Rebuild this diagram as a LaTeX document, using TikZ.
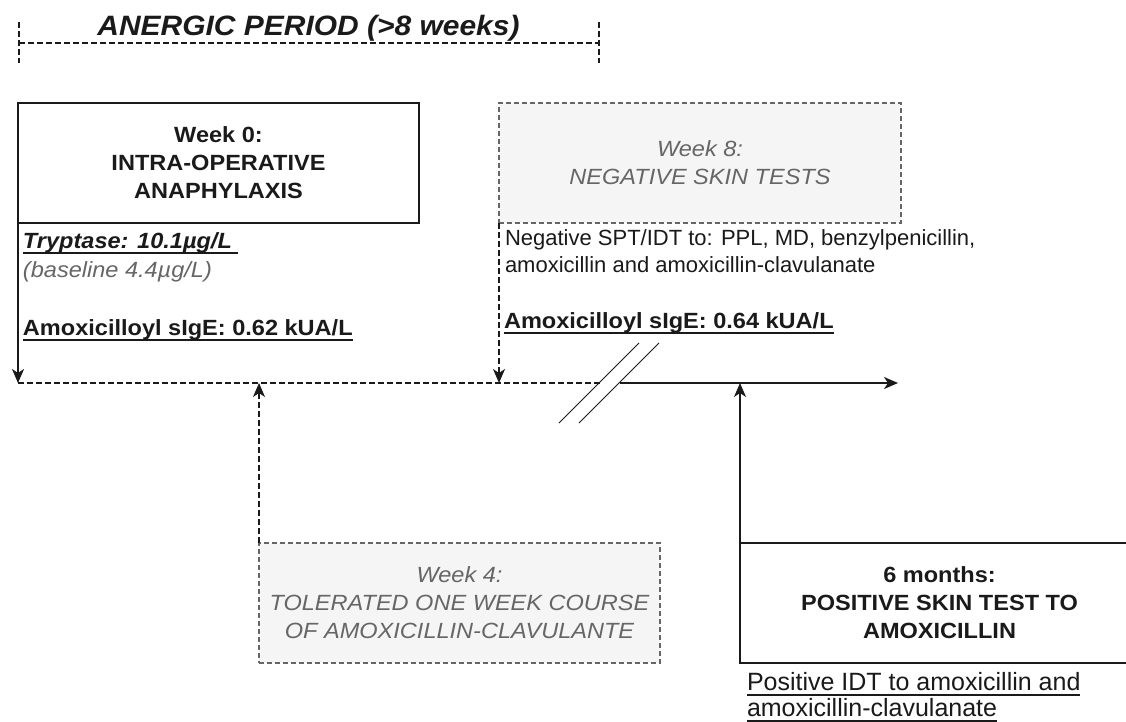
\documentclass[tikz,border=0pt]{standalone}
\usepackage{fontspec}
\setmainfont{Liberation Sans}[BoldFeatures={FakeStretch=1.07},ItalicFeatures={FakeStretch=1.07},BoldItalicFeatures={FakeStretch=1.07}]
\usetikzlibrary{arrows.meta}
\definecolor{grayfill}{HTML}{F5F5F5}
\definecolor{graytext}{HTML}{666666}
\definecolor{graystroke}{HTML}{666666}
\definecolor{ink}{HTML}{1A1A1A}
\newcommand\myul[1]{\setbox0\hbox{#1}\rlap{\copy0}\rule[-5.5pt]{\wd0}{1.5pt}}
\begin{document}
\begin{tikzpicture}[x=1pt,y=-1pt,
  every node/.style={inner sep=0pt,outer sep=0pt,text=ink,font=\fontsize{22}{28}\selectfont},
  solidbox/.style={draw=ink,line width=1.6pt,minimum height=120pt,anchor=north west,align=center,font=\bfseries\fontsize{22}{28}\selectfont},
  graybox/.style={draw=graystroke,fill=grayfill,dash pattern=on 5pt off 3pt,line width=1.1pt,minimum height=120pt,anchor=north west,align=center,text=graytext,font=\itshape\fontsize{22}{28}\selectfont},
  note/.style={anchor=base west},
  arr/.style={draw=ink,line width=1.6pt,-{Stealth[length=14pt,width=12pt,inset=4pt]}},
  darr/.style={draw=ink,line width=1.3pt,dash pattern=on 6pt off 3pt,-{Stealth[length=14pt,width=12pt,inset=4pt]}},
  dline/.style={draw=ink,line width=1.3pt,dash pattern=on 6pt off 3pt},
  breakline/.style={draw=ink,line width=0.9pt}
]
\useasboundingbox (0,0) rectangle (1126,721);
\clip (0,0) rectangle (1126,721);
\fill[white] (0,0) rectangle (1126,721);

% anergic period bracket
\coordinate (bl) at (19,43);
\coordinate (br) at (599,43);
\draw[dline] (bl) -- (br);
\draw[dline] (19,22) -- (19,63);
\draw[dline] (599,22) -- (599,63);
\node[anchor=base,font=\bfseries\itshape\fontsize{28}{34}\selectfont] (title) at (308.5,35) {ANERGIC PERIOD (>8 weeks)};

% boxes
\node[solidbox,minimum width=401pt] (w0) at (18,103) {Week 0:\\INTRA-OPERATIVE\\ANAPHYLAXIS};
\node[graybox,minimum width=402pt] (w8) at (499,103) {Week 8:\\NEGATIVE SKIN TESTS};
\node[graybox,minimum width=401pt] (w4) at (259,543) {Week 4:\\TOLERATED ONE WEEK COURSE\\OF AMOXICILLIN-CLAVULANTE};
\node[solidbox,minimum width=399pt] (m6) at (740,543) {6 months:\\POSITIVE SKIN TEST TO\\AMOXICILLIN};

% notes
\node[note,font=\bfseries\itshape\fontsize{22}{28}\selectfont] (tryp) at (23,248) {\myul{Tryptase: 10.1µg/L\ }};
\node[note,text=graytext,font=\itshape\fontsize{22}{28}\selectfont] (base) at (23,277) {(baseline 4.4µg/L)};
\node[note,font=\bfseries\fontsize{22}{28}\selectfont] (sige0) at (23,335) {\myul{Amoxicilloyl sIgE: 0.62 kUA/L}};

\node[note] (neg1) at (505,245) {Negative SPT/IDT to: PPL, MD, benzylpenicillin,};
\node[note] (neg2) at (505,272) {amoxicillin and amoxicillin-clavulanate};
\node[note,font=\bfseries\fontsize{22}{28}\selectfont] (sige8) at (504,328) {\myul{Amoxicilloyl sIgE: 0.64 kUA/L}};

\node[note,font=\fontsize{25}{30}\selectfont] (pos1) at (747,690) {\myul{Positive IDT to amoxicillin and}};
\node[note,font=\fontsize{25}{30}\selectfont] (pos2) at (747,716) {\myul{amoxicillin-clavulanate}};

% timeline
\coordinate (tlA) at (18,383);
\coordinate (tlB) at (600,383);
\coordinate (tlC) at (620,383);
\coordinate (tlD) at (898,383);
\draw[dline] (tlA) -- (tlB);
\draw[arr] (tlC) -- (tlD);
\draw[breakline] (559,423) -- (639,343);
\draw[breakline] (579,423) -- (659,343);

% connectors
\draw[arr] (w0.south west) -- (w0.south west |- tlA);
\draw[darr] (w8.south west) -- (w8.south west |- tlA);
\draw[darr] (w4.north west) -- (w4.north west |- tlA);
\draw[arr] (m6.north west) -- (m6.north west |- tlA);
\end{tikzpicture}
\end{document}
